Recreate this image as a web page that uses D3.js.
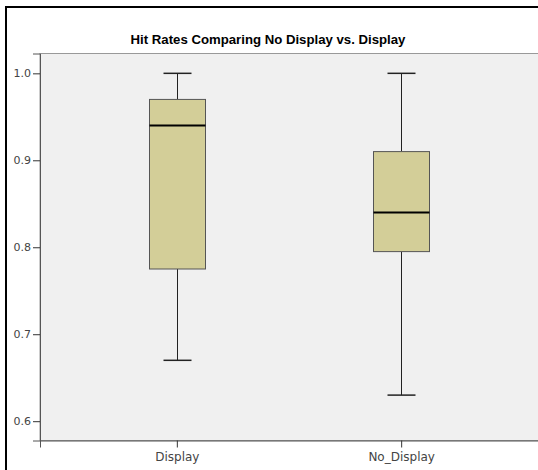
<!DOCTYPE html>
<html>
<head>
<meta charset="utf-8">
<script src="https://cdn.jsdelivr.net/npm/d3@7"></script>
<style>
  html, body { margin: 0; padding: 0; background: #fff; }
  svg { display: block; }
</style>
</head>
<body>
<svg id="chart" width="538" height="470"></svg>
<script>
// Group names and five-number summaries of hit rate per group
const categories = ["Display", "No_Display"];
const whiskerLow  = [0.67, 0.63];
const quartile1   = [0.775, 0.795];
const medians     = [0.94, 0.84];
const quartile3   = [0.97, 0.91];
const whiskerHigh = [1.0, 1.0];
const yTicks = [0.6, 0.7, 0.8, 0.9, 1.0];
const title = "Hit Rates Comparing No Display vs. Display";

const svg = d3.select("#chart");
const plot = { left: 40, top: 53.5, right: 540, bottom: 440.5 };

const x = d3.scalePoint().domain(categories).range([plot.left, 538]).padding(0.61);
const y = d3.scaleLinear().domain([0.5778, 1.0228]).range([plot.bottom, plot.top]);

// outer frame
svg.append("rect")
  .attr("x", 6).attr("y", 7).attr("width", 560).attr("height", 500)
  .attr("fill", "#fff").attr("stroke", "#000").attr("stroke-width", 2);

// title
svg.append("text")
  .attr("x", 268).attr("y", 44)
  .attr("text-anchor", "middle")
  .attr("font-family", "Liberation Sans, Arial, sans-serif")
  .attr("font-size", 13.2).attr("font-weight", "bold")
  .attr("fill", "#000")
  .text(title);

// plot background
svg.append("rect")
  .attr("x", plot.left).attr("y", plot.top)
  .attr("width", plot.right - plot.left).attr("height", plot.bottom - plot.top)
  .attr("fill", "#f0f0f0").attr("stroke", "#999").attr("stroke-width", 1);

// y axis
const yAxis = svg.append("g")
  .attr("transform", `translate(${plot.left},0)`)
  .call(d3.axisLeft(y).tickValues(yTicks).tickFormat(d3.format(".1f")).tickSize(7).tickPadding(2));
yAxis.select(".domain").attr("stroke", "#555");
yAxis.selectAll(".tick line").attr("stroke", "#333");
yAxis.selectAll(".tick text")
  .attr("font-family", "DejaVu Sans, sans-serif")
  .attr("font-size", 11).attr("fill", "#444");

// x axis
const xAxis = svg.append("g")
  .attr("transform", `translate(0,${plot.bottom})`)
  .call(d3.axisBottom(x).tickSize(7).tickPadding(5));
xAxis.select(".domain").attr("stroke", "#555");
xAxis.selectAll(".tick line").attr("stroke", "#333");
xAxis.selectAll(".tick text")
  .attr("font-family", "DejaVu Sans, sans-serif")
  .attr("font-size", 12).attr("fill", "#444");

// boxes
const boxW = 56, capW = 28;
const data = categories.map((c, i) => ({
  c, lo: whiskerLow[i], q1: quartile1[i], med: medians[i], q3: quartile3[i], hi: whiskerHigh[i]
}));

const g = svg.append("g");
data.forEach(d => {
  const cx = Math.round(x(d.c)) + 0.5;
  const line = (x1, y1, x2, y2, w, col) => g.append("line")
    .attr("x1", x1).attr("y1", y1).attr("x2", x2).attr("y2", y2)
    .attr("stroke", col).attr("stroke-width", w);
  // whiskers
  line(cx, y(d.hi), cx, y(d.q3), 1, "#222");
  line(cx, y(d.q1), cx, y(d.lo), 1, "#222");
  line(cx - capW / 2, y(d.hi), cx + capW / 2, y(d.hi), 1.5, "#222");
  line(cx - capW / 2, y(d.lo), cx + capW / 2, y(d.lo), 1.5, "#222");
  // box
  g.append("rect")
    .attr("x", cx - boxW / 2).attr("y", y(d.q3))
    .attr("width", boxW).attr("height", y(d.q1) - y(d.q3))
    .attr("fill", "#d3ce98").attr("stroke", "#555").attr("stroke-width", 1);
  // median
  line(cx - boxW / 2, y(d.med), cx + boxW / 2, y(d.med), 2, "#000");
});
</script>
</body>
</html>
